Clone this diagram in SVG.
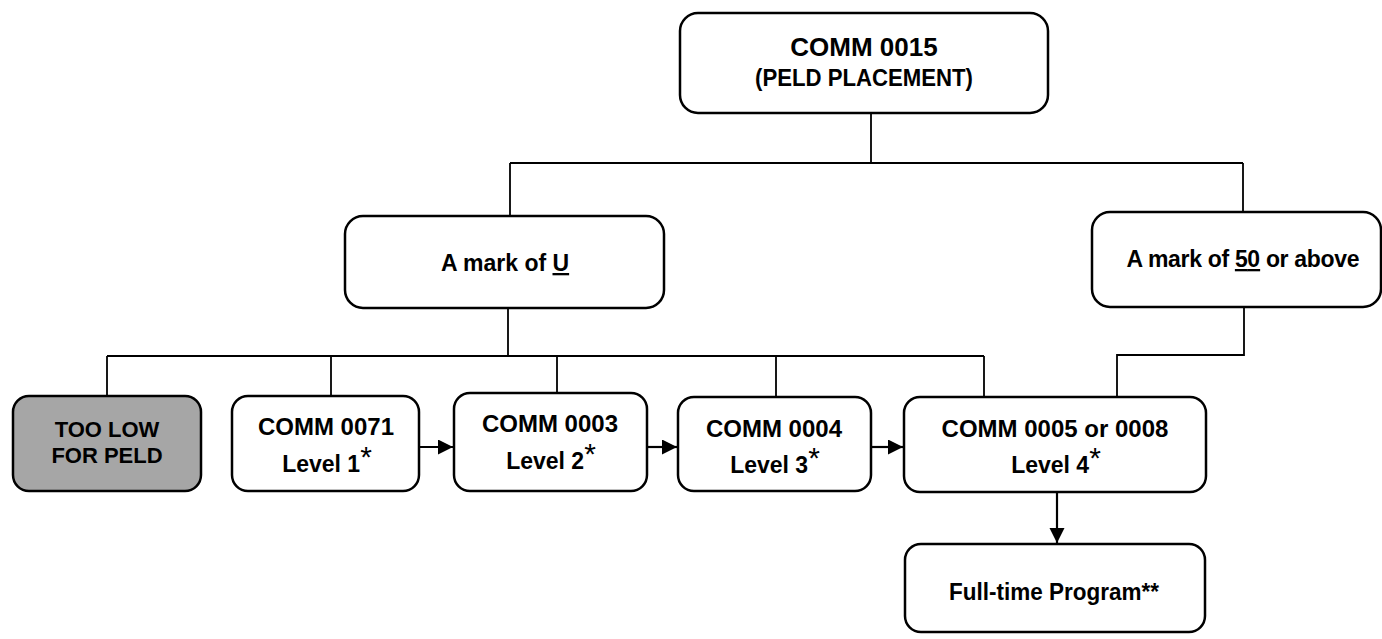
<svg xmlns="http://www.w3.org/2000/svg" width="1382" height="639" viewBox="0 0 1382 639">
<style>
.box{fill:#fff;stroke:#000;stroke-width:2.5}
.gray{fill:#a6a6a6}
.t{font-family:"Liberation Sans",Arial,sans-serif;font-weight:bold;font-size:23px;fill:#000;text-anchor:middle}
.c{font-size:24px}
.big{font-size:26px}
.sm{font-size:22px}
.ln{fill:none;stroke:#000;stroke-width:1.8}
.ar{fill:none;stroke:#000;stroke-width:2.2;marker-end:url(#ah)}
.st{font-size:30px;font-weight:normal}
</style>
<defs>
<marker id="ah" markerWidth="16" markerHeight="16" refX="15" refY="7.5" orient="auto" markerUnits="userSpaceOnUse">
<path d="M0,0 L15,7.5 L0,15 Z" fill="#000"/>
</marker>
</defs>
<g id="connectors">
<path class="ln" d="M871,113 V163 M510,163 H1243 M510,163 V216 M1243,163 V212"/>
<path class="ln" d="M508,308 V356 M107,356 H984 M107,356 V396 M331,356 V396 M557,356 V393 M776,356 V397 M984,356 V397"/>
<path class="ln" d="M1244,307 V355 H1117 V397"/>
<path class="ar" d="M419,447 H453"/>
<path class="ar" d="M647,447 H677"/>
<path class="ar" d="M871,447 H903"/>
<path class="ar" d="M1057,492 V543"/>
</g>
<g id="n-comm0015">
<rect class="box" x="680" y="13" width="368" height="100" rx="18"/>
<text class="t big" x="864" y="56">COMM 0015</text>
<text class="t" x="864" y="86" textLength="218" lengthAdjust="spacingAndGlyphs">(PELD PLACEMENT)</text>
</g>
<g id="n-markU">
<rect class="box" x="345" y="216" width="319" height="92" rx="18"/>
<text class="t" x="505" y="271">A mark of <tspan text-decoration="underline">U</tspan></text>
</g>
<g id="n-mark50">
<rect class="box" x="1092" y="212" width="289" height="95" rx="18"/>
<text class="t" x="1243" y="267" textLength="233" lengthAdjust="spacing">A mark of <tspan text-decoration="underline">50</tspan> or above</text>
</g>
<g id="n-toolow">
<rect class="box gray" x="13" y="396" width="188" height="95" rx="16"/>
<text class="t sm" x="107" y="437">TOO LOW</text>
<text class="t sm" x="107" y="463">FOR PELD</text>
</g>
<g id="n-comm0071">
<rect class="box" x="232" y="396" width="187" height="95" rx="16"/>
<text class="t c" x="326" y="435">COMM 0071</text>
<text class="t" x="327" y="472">Level 1<tspan class="st" dy="-5">*</tspan></text>
</g>
<g id="n-comm0003">
<rect class="box" x="454" y="393" width="193" height="98" rx="16"/>
<text class="t c" x="550" y="432">COMM 0003</text>
<text class="t" x="551" y="469">Level 2<tspan class="st" dy="-5">*</tspan></text>
</g>
<g id="n-comm0004">
<rect class="box" x="678" y="397" width="193" height="94" rx="16"/>
<text class="t c" x="774" y="437">COMM 0004</text>
<text class="t" x="775" y="473">Level 3<tspan class="st" dy="-5">*</tspan></text>
</g>
<g id="n-comm0005">
<rect class="box" x="904" y="397" width="302" height="95" rx="16"/>
<text class="t c" x="1055" y="437">COMM 0005 or 0008</text>
<text class="t" x="1056" y="473">Level 4<tspan class="st" dy="-5">*</tspan></text>
</g>
<g id="n-fulltime">
<rect class="box" x="905" y="544" width="300" height="88" rx="16"/>
<text class="t" x="1054" y="600" textLength="210" lengthAdjust="spacingAndGlyphs">Full-time Program**</text>
</g>
</svg>
